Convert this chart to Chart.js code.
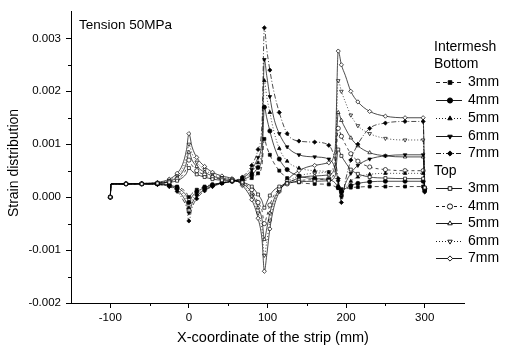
<!DOCTYPE html>
<html>
<head>
<meta charset="utf-8">
<script src="https://cdn.jsdelivr.net/npm/chart.js@4.4.1/dist/chart.umd.min.js"></script>
<style>
  html, body { margin: 0; padding: 0; background: #fff; }
  #wrap { width: 521px; height: 349px; }
</style>
</head>
<body>
<div id="wrap"><canvas id="grafico"></canvas></div>
<script>
// posiciones a lo largo de la banda (mm)
const posX = [-100, -99, -80, -60, -40, -25, -15, -8, -3, 0,
  4, 10, 20, 30, 42, 55, 68, 80, 88, 93,
  96, 99, 103, 108, 115, 125, 140, 160, 178, 186,
  190, 194, 199, 206, 215, 230, 250, 275, 298, 300];

// Bottom
const bottom3 = [0, 0.00025, 0.00025, 0.00025, 0.00025, 0.00024, 0.0002, 0.00015, 0.00008, 0,
  0.00007, 0.00014, 0.0002, 0.00024, 0.00027, 0.0003, 0.00031, 0.00036, 0.00045, 0.0006,
  0.0011, 0.00095, 0.0008, 0.00065, 0.0005, 0.00036, 0.00028, 0.00025, 0.00024, 0.0002,
  0.00017, 0.00015, 0.00016, 0.00018, 0.00019, 0.0002, 0.0002, 0.0002, 0.0002, 0.00018];
const bottom4 = [0, 0.00025, 0.00025, 0.00025, 0.00025, 0.00023, 0.00018, 0.00011, 0.00002, -0.0001,
  0.00001, 0.0001, 0.00018, 0.00023, 0.00027, 0.0003, 0.00033, 0.00042, 0.00056, 0.00075,
  0.0017, 0.0015, 0.00125, 0.00098, 0.00072, 0.00052, 0.0004, 0.00035, 0.00033, 0.00027,
  0.00018, 0.0001, 0.00016, 0.00022, 0.00026, 0.00029, 0.0003, 0.0003, 0.0003, 0.00016];
const bottom5 = [0, 0.00025, 0.00025, 0.00025, 0.00024, 0.00022, 0.00016, 0.00007, -0.00005, -0.0002,
  -0.00006, 0.00006, 0.00016, 0.00022, 0.00027, 0.0003, 0.00035, 0.00047, 0.00065, 0.0009,
  0.0022, 0.0019, 0.0016, 0.00125, 0.00092, 0.00068, 0.00055, 0.0005, 0.00047, 0.00036,
  0.00022, 0.00005, 0.00018, 0.0003, 0.00038, 0.00043, 0.00045, 0.00045, 0.00045, 0.00014];
const bottom6 = [0, 0.00025, 0.00025, 0.00025, 0.00024, 0.00021, 0.00014, 0.00002, -0.00012, -0.0003,
  -0.00012, 0.00002, 0.00014, 0.00021, 0.00027, 0.0003, 0.00036, 0.00052, 0.00075, 0.0011,
  0.0026, 0.0023, 0.0019, 0.0015, 0.0012, 0.00095, 0.0008, 0.00076, 0.00072, 0.00055,
  0.0003, 0, 0.00025, 0.00045, 0.0006, 0.00072, 0.00078, 0.0008, 0.0008, 0.00012];
const bottom7 = [0, 0.00025, 0.00025, 0.00025, 0.00024, 0.0002, 0.00011, -0.00004, -0.0002, -0.00045,
  -0.0002, -0.00003, 0.00012, 0.0002, 0.00026, 0.0003, 0.00038, 0.0006, 0.0009, 0.0014,
  0.0032, 0.0028, 0.0024, 0.002, 0.0016, 0.0012, 0.00106, 0.00104, 0.00098, 0.0007,
  0.00035, -0.0001, 0.0003, 0.0007, 0.001, 0.0013, 0.0014, 0.00143, 0.00143, 0.0001];

// Top
const top3 = [0, 0.00025, 0.00025, 0.00025, 0.00026, 0.00028, 0.00031, 0.00037, 0.00045, 0.00055,
  0.00049, 0.00043, 0.00038, 0.00034, 0.00032, 0.00031, 0.00028, 0.0002, 0.00005, -0.00007,
  -0.0002, -0.0001, 0.00003, 0.00013, 0.0002, 0.00026, 0.00029, 0.0003, 0.00031, 0.0004,
  0.0009, 0.00078, 0.00066, 0.00052, 0.00044, 0.00038, 0.00036, 0.00035, 0.00035, 0.00018];
const top4 = [0, 0.00025, 0.00025, 0.00025, 0.00026, 0.00029, 0.00034, 0.00042, 0.00055, 0.0007,
  0.0006, 0.0005, 0.00042, 0.00037, 0.00034, 0.00032, 0.00027, 0.00014, -0.0001, -0.00025,
  -0.0005, -0.00036, -0.00015, 0.00003, 0.00016, 0.00025, 0.00031, 0.00033, 0.00035, 0.0005,
  0.0013, 0.00115, 0.001, 0.00082, 0.00068, 0.00057, 0.00052, 0.0005, 0.0005, 0.00016];
const top5 = [0, 0.00025, 0.00025, 0.00025, 0.00027, 0.0003, 0.00037, 0.00048, 0.00065, 0.00085,
  0.0007, 0.00058, 0.00047, 0.0004, 0.00035, 0.00033, 0.00026, 0.00008, -0.0002, -0.00042,
  -0.0008, -0.0006, -0.0003, -0.00005, 0.00014, 0.00026, 0.00036, 0.0004, 0.00042, 0.0006,
  0.0016, 0.00145, 0.0013, 0.00112, 0.00097, 0.00084, 0.00078, 0.00076, 0.00076, 0.00014];
const top6 = [0, 0.00025, 0.00025, 0.00026, 0.00027, 0.00032, 0.0004, 0.00054, 0.00076, 0.001,
  0.00082, 0.00066, 0.00052, 0.00043, 0.00037, 0.00034, 0.00024, 0.00002, -0.0003, -0.0006,
  -0.0011, -0.00085, -0.00045, -0.00012, 0.00012, 0.00028, 0.0004, 0.00045, 0.00048, 0.0007,
  0.0022, 0.002, 0.0018, 0.00155, 0.00135, 0.0012, 0.00111, 0.00108, 0.00108, 0.00012];
const top7 = [0, 0.00025, 0.00025, 0.00026, 0.00028, 0.00034, 0.00045, 0.00062, 0.0009, 0.0012,
  0.00095, 0.00075, 0.00058, 0.00047, 0.0004, 0.00035, 0.00022, -0.00005, -0.0004, -0.0008,
  -0.0014, -0.0011, -0.0006, -0.0002, 0.0001, 0.00032, 0.0005, 0.0006, 0.00065, 0.0009,
  0.00276, 0.0025, 0.0023, 0.002, 0.0018, 0.00162, 0.00153, 0.0015, 0.0015, 0.0001];

const xTicks = [-100, 0, 100, 200, 300];
const yTicks = [-0.002, -0.001, 0, 0.001, 0.002, 0.003];
const xMinor = [-50, 50, 150, 250];
const yMinor = [-0.0015, -0.0005, 0.0005, 0.0015, 0.0025];
// indices de posX que llevan marcador
const conMarcador = [0, 2, 3, 4, 5, 6, 9, 11, 12, 13, 14, 15, 16, 17, 18, 20, 22, 24, 25, 26,
  27, 28, 30, 31, 33, 34, 35, 36, 37, 38, 39];

const FONT = "'Liberation Sans', Arial, sans-serif";

const series = [
  { grupo: 'Bottom', label: '3mm', data: bottom3, marker: 'rect', rot: 0, lleno: true, dash: [4, 3] },
  { grupo: 'Bottom', label: '4mm', data: bottom4, marker: 'circle', rot: 0, lleno: true, dash: [] },
  { grupo: 'Bottom', label: '5mm', data: bottom5, marker: 'triangle', rot: 0, lleno: true, dash: [1, 2] },
  { grupo: 'Bottom', label: '6mm', data: bottom6, marker: 'triangle', rot: 180, lleno: true, dash: [] },
  { grupo: 'Bottom', label: '7mm', data: bottom7, marker: 'rectRot', rot: 0, lleno: true, dash: [5, 2, 1, 2] },
  { grupo: 'Top', label: '3mm', data: top3, marker: 'rect', rot: 0, lleno: false, dash: [] },
  { grupo: 'Top', label: '4mm', data: top4, marker: 'circle', rot: 0, lleno: false, dash: [3, 3] },
  { grupo: 'Top', label: '5mm', data: top5, marker: 'triangle', rot: 0, lleno: false, dash: [] },
  { grupo: 'Top', label: '6mm', data: top6, marker: 'triangle', rot: 180, lleno: false, dash: [1, 2] },
  { grupo: 'Top', label: '7mm', data: top7, marker: 'rectRot', rot: 0, lleno: false, dash: [] }
];

function puntos(valores) {
  return posX.map((x, i) => ({ x: x, y: valores[i] }));
}

// leyenda, titulos y ticks menores
const extras = {
  id: 'extras',
  afterDraw(chart) {
    const ctx = chart.ctx;
    const sx = chart.scales.x;
    const sy = chart.scales.y;
    ctx.save();
    ctx.strokeStyle = '#000';
    ctx.fillStyle = '#000';
    ctx.lineWidth = 1;

    ctx.beginPath();
    yMinor.forEach(v => {
      const py = Math.round(sy.getPixelForValue(v)) + 0.5;
      ctx.moveTo(sy.right - 3, py);
      ctx.lineTo(sy.right, py);
    });
    xMinor.forEach(v => {
      const px = Math.round(sx.getPixelForValue(v)) + 0.5;
      ctx.moveTo(px, sx.top);
      ctx.lineTo(px, sx.top + 3);
    });
    ctx.stroke();

    ctx.textBaseline = 'middle';
    ctx.textAlign = 'left';
    ctx.font = '13.5px ' + FONT;
    ctx.fillText('Tension 50MPa', 79, 25);

    ctx.font = '14.5px ' + FONT;
    ctx.textAlign = 'center';
    ctx.fillText('X-coordinate of the strip (mm)', 273, 338);

    ctx.save();
    ctx.translate(14, 163);
    ctx.rotate(-Math.PI / 2);
    ctx.font = '14px ' + FONT;
    ctx.fillText('Strain distribution', 0, 0);
    ctx.restore();

    // leyenda
    ctx.font = '14px ' + FONT;
    ctx.textAlign = 'left';
    ctx.fillText('Intermesh', 434, 47);
    const filas = [64, 82, 100, 118, 136, 153, 171, 188, 206, 223, 241, 258];
    let f = 0;
    let grupoActual = '';
    series.forEach(s => {
      if (s.grupo !== grupoActual) {
        grupoActual = s.grupo;
        ctx.fillText(s.grupo, 434, filas[f++]);
      }
      const y = filas[f++] + 0.5;
      ctx.lineWidth = 0.9;
      ctx.setLineDash(s.dash);
      ctx.beginPath();
      ctx.moveTo(436, y);
      ctx.lineTo(462, y);
      ctx.stroke();
      ctx.setLineDash([]);
      ctx.fillStyle = s.lleno ? '#000' : '#fff';
      Chart.helpers.drawPoint(ctx, { pointStyle: s.marker, radius: 2.6, rotation: s.rot, borderWidth: 0.9 }, 450, y);
      ctx.fillStyle = '#000';
      ctx.fillText(s.label, 468, filas[f - 1]);
    });
    ctx.restore();
  }
};

const grafico = document.getElementById('grafico').getContext('2d');
const myChart = new Chart(grafico, {
  type: 'line',
  data: {
    datasets: series.map((s, i) => ({
      label: s.grupo + ' ' + s.label,
      data: puntos(s.data),
      // Top 3mm encima de todo (cuadro abierto en -100)
      order: i === 5 ? -1 : 0,
      borderColor: '#000',
      borderWidth: 0.7,
      borderDash: s.dash,
      backgroundColor: s.lleno ? '#000' : '#fff',
      pointStyle: s.marker,
      pointRotation: s.rot,
      pointRadius: ctx => (conMarcador.includes(ctx.dataIndex) ? 2.1 : 0),
      pointBorderWidth: 0.7,
      pointBorderColor: '#000',
      pointBackgroundColor: s.lleno ? '#000' : '#fff',
      cubicInterpolationMode: 'monotone',
      fill: false
    }))
  },
  options: {
    responsive: true,
    maintainAspectRatio: false,
    animation: false,
    layout: { padding: { top: 7, right: 57, left: 0, bottom: 0 } },
    plugins: {
      legend: { display: false },
      tooltip: { enabled: false }
    },
    scales: {
      x: {
        type: 'linear',
        min: -150,
        max: 350,
        afterBuildTicks: scale => { scale.ticks = xTicks.map(v => ({ value: v })); },
        afterFit: scale => { scale.height = 46; },
        ticks: { color: '#000', font: { family: FONT, size: 11.5 }, padding: 3, maxRotation: 0 },
        grid: { drawOnChartArea: false, drawTicks: true, tickLength: 5, color: '#000' },
        border: { display: true, color: '#000', width: 1 }
      },
      y: {
        min: -0.002,
        max: 0.0035,
        afterBuildTicks: scale => { scale.ticks = yTicks.map(v => ({ value: v })); },
        afterFit: scale => { scale.width = 71; },
        ticks: {
          color: '#000',
          font: { family: FONT, size: 11.5 },
          padding: 5,
          callback: v => v.toFixed(3)
        },
        grid: { drawOnChartArea: false, drawTicks: true, tickLength: 5, color: '#000' },
        border: { display: true, color: '#000', width: 1 }
      }
    }
  },
  plugins: [extras]
});
</script>
</body>
</html>
